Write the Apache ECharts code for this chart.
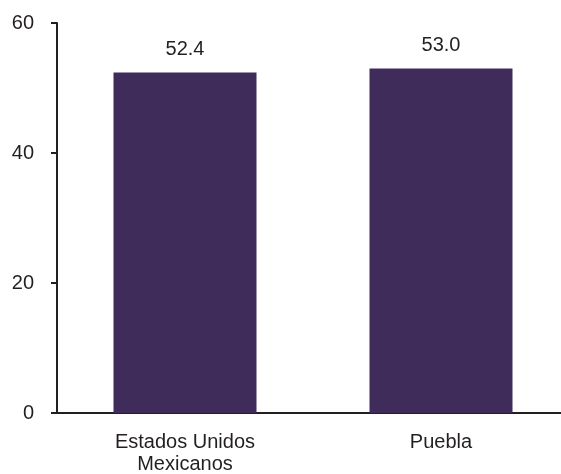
<!DOCTYPE html>
<html><head><meta charset="utf-8">
<script src="https://cdn.jsdelivr.net/npm/echarts@6/dist/echarts.min.js"></script>
<style>html,body{margin:0;padding:0;background:#fff}#c{width:561px;height:474px}</style>
</head><body><div id="c"></div>
<script>
const categories = ['Estados Unidos\nMexicanos', 'Puebla'];
const values = [52.4, 53.0];
const yTicks = [0, 20, 40, 60];

const chart = echarts.init(document.getElementById('c'), null, {renderer: 'canvas'});
chart.setOption({
  animation: false,
  backgroundColor: '#ffffff',
  grid: {left: 57, top: 23, width: 512, height: 390, containLabel: false, outerBoundsMode: 'none'},
  xAxis: {
    type: 'category', data: categories,
    axisLine: {lineStyle: {color: '#231f20', width: 2}},
    axisTick: {show: false},
    axisLabel: {color: '#231f20', fontFamily: 'Liberation Sans', fontSize: 20, margin: 18, lineHeight: 22, interval: 0}
  },
  yAxis: {
    type: 'value', min: yTicks[0], max: yTicks[yTicks.length - 1], interval: 20,
    axisLine: {show: true, lineStyle: {color: '#231f20', width: 2}},
    axisTick: {show: true, length: 6, lineStyle: {color: '#231f20', width: 2}},
    splitLine: {show: false},
    axisLabel: {color: '#231f20', fontFamily: 'Liberation Sans', fontSize: 20, margin: 23}
  },
  series: [{
    type: 'bar', data: values, barWidth: 143,
    itemStyle: {color: '#3f2c5a'},
    label: {show: true, position: 'top', distance: 13, color: '#231f20', fontFamily: 'Liberation Sans', fontSize: 20,
      formatter: p => p.value.toFixed(1)}
  }]
});
</script></body></html>
